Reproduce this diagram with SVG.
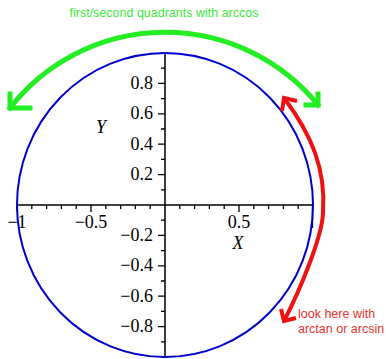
<svg xmlns="http://www.w3.org/2000/svg" width="386" height="359" viewBox="0 0 386 359">
<style>
.ax{stroke:#000;stroke-width:1.5;fill:none}
.tk{stroke:#000;stroke-width:1.3;fill:none}
.num{font-family:"Liberation Serif","Times New Roman",serif;font-size:18px;fill:#000}
.yl{text-anchor:end}
.xl{text-anchor:middle}
.var{font-family:"Liberation Serif","Times New Roman",serif;font-size:18px;font-style:italic;fill:#000;text-anchor:middle}
.g{stroke:#22ee22;stroke-width:5;fill:none;stroke-linecap:square}
.r{stroke:#ee1111;stroke-width:4;fill:none;stroke-linecap:butt}
.gt{font-family:"Liberation Sans",Arial,sans-serif;font-size:12.5px;fill:#3de83d}
.rt{font-family:"Liberation Sans",Arial,sans-serif;font-size:12.5px;fill:#e83030}
</style>
<rect width="386" height="359" fill="#fff"/>
<g id="axes">
<path class="ax" d="M17,205H313M165,52V357"/>
<path class="tk" d="M158,174.6H165M158,144.2H165M158,113.8H165M158,83.4H165M158,235.4H165M158,265.8H165M158,296.2H165M158,326.6H165"/>
<path class="tk" d="M161,189.8H165M161,159.4H165M161,129H165M161,98.6H165M161,68.2H165M161,220.2H165M161,250.6H165M161,281H165M161,311.4H165M161,341.8H165"/>
<path class="tk" d="M17,205V212M91,205V212M239,205V212M312.5,205V228"/>
<path class="tk" d="M31.8,205V209M46.6,205V209M61.4,205V209M76.2,205V209M105.8,205V209M120.6,205V209M135.4,205V209M150.2,205V209M179.8,205V209M194.6,205V209M209.4,205V209M224.2,205V209M253.8,205V209M268.6,205V209M283.4,205V209M298.2,205V209"/>
<text class="num yl" x="153" y="89">0.8</text>
<text class="num yl" x="153" y="119.3">0.6</text>
<text class="num yl" x="153" y="149.7">0.4</text>
<text class="num yl" x="153" y="180.1">0.2</text>
<text class="num yl" x="153" y="240.9">−0.2</text>
<text class="num yl" x="153" y="271.3">−0.4</text>
<text class="num yl" x="153" y="301.7">−0.6</text>
<text class="num yl" x="153" y="332.1">−0.8</text>
<text class="num xl" x="17" y="228">−1</text>
<text class="num xl" x="91" y="228">−0.5</text>
<text class="num xl" x="239" y="228">0.5</text>
<text class="var" x="101" y="133">Y</text>
<text class="var" x="238" y="249">X</text>
</g>
<g id="circle">
<ellipse cx="165" cy="205" rx="148" ry="152" fill="none" stroke="#0000cc" stroke-width="2"/>
</g>
<g id="connectors">
<path class="g" d="M10,108 A197 197 0 0 1 318,105"/>
<polyline class="g" points="10,94 10,108 30,108"/>
<polyline class="g" points="318,94 318,105 306,105"/>
<path class="r" d="M284,98 C312,135 326,170 323,212 C323,235 300,290 284,321"/>
<polyline class="r" points="282,111 284,98 297,101"/>
<polyline class="r" points="281,309 284,321 296,318"/>
</g>
<g id="label-green">
<text class="gt" x="164" y="17" text-anchor="middle">first/second quadrants with arccos</text>
</g>
<g id="label-red">
<text class="rt" x="298" y="318">look here with</text>
<text class="rt" x="298" y="333">arctan or arcsin</text>
</g>
</svg>
